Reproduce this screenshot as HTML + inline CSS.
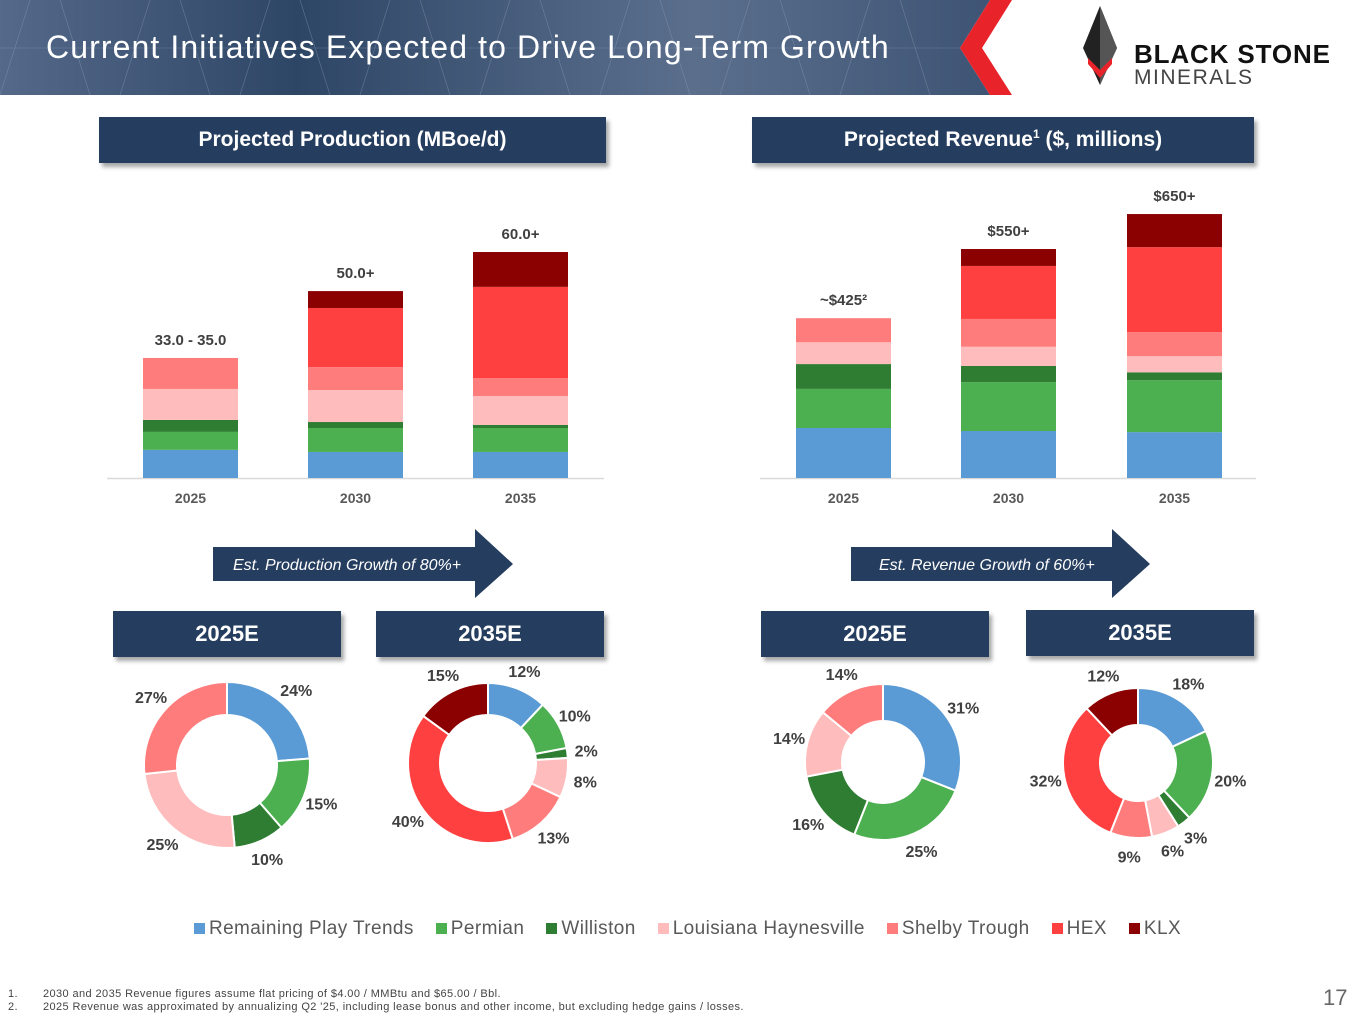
<!DOCTYPE html>
<html><head><meta charset="utf-8">
<style>
body{margin:0;width:1365px;height:1024px;position:relative;background:#fff;font-family:"Liberation Sans",sans-serif;overflow:hidden}
.hdr{position:absolute;background:#253d5e;color:#fff;font-weight:bold;text-align:center;box-shadow:3px 4px 4px rgba(0,0,0,0.35)}
sup{line-height:0}
</style></head><body>
<svg style="position:absolute;left:0;top:0" width="1365" height="100">
<defs><linearGradient id="g" x1="0" x2="1"><stop offset="0" stop-color="#55698a"/><stop offset="0.3" stop-color="#2e4666"/><stop offset="0.7" stop-color="#5b6f8d"/><stop offset="1" stop-color="#3e5474"/></linearGradient></defs>
<polygon points="0,0 990,0 960,48 990,95 0,95" fill="url(#g)"/>
<g stroke="#8ea0ba" stroke-width="0.6" opacity="0.5"><path d="M0,48H960 M30,0L0,95 M60,0l30,95 M150,0l-30,95 M180,0l30,95 M270,0l-30,95 M300,0l30,95 M390,0l-30,95 M420,0l30,95 M510,0l-30,95 M540,0l30,95 M630,0l-30,95 M660,0l30,95 M750,0l-30,95 M780,0l30,95 M870,0l-30,95 M900,0l30,95"/></g>
<polygon points="990,0 1012,0 982,48 1012,95 990,95 960,48" fill="#e8232a"/>
<polygon points="1100,6 1083,48 1100,85 1117,48" fill="#222"/>
<polygon points="1100,6 1100,85 1117,48" fill="#555"/>
<polygon points="1088,58 1100,70 1112,58 1112,64 1100,78 1088,64" fill="#e8232a"/>
<text x="1134" y="63" font-size="26" font-weight="bold" fill="#111" font-family="Liberation Sans" textLength="196">BLACK STONE</text>
<text x="1134" y="84" font-size="21" fill="#444" font-family="Liberation Sans" textLength="118">MINERALS</text>
</svg>
<div style="position:absolute;left:46px;top:29px;font-size:32px;color:#fff;letter-spacing:1.1px">Current Initiatives Expected to Drive Long-Term Growth</div>

<div class="hdr" style="left:99px;top:117px;width:507px;height:46px;line-height:46px;font-size:21px">Projected Production (MBoe/d)</div>
<div class="hdr" style="left:752px;top:117px;width:502px;height:46px;line-height:46px;font-size:21px">Projected Revenue<sup style="font-size:12px">1</sup> ($, millions)</div>

<svg style="position:absolute;left:0;top:0" width="1365" height="1024">
<polygon points="213,547 475,547 475,529 513,564 475,598 475,581 213,581" fill="#253d5e"/>
<polygon points="851,547 1112,547 1112,529 1150,564 1112,598 1112,581 851,581" fill="#253d5e"/>
<text x="233" y="570" font-size="16" font-style="italic" fill="#fff" font-family="Liberation Sans">Est. Production Growth of 80%+</text>
<text x="879" y="570" font-size="16" font-style="italic" fill="#fff" font-family="Liberation Sans">Est. Revenue Growth of 60%+</text>
</svg>

<div class="hdr" style="left:113px;top:611px;width:228px;height:46px;line-height:46px;font-size:22px">2025E</div>
<div class="hdr" style="left:376px;top:611px;width:228px;height:46px;line-height:46px;font-size:22px">2035E</div>
<div class="hdr" style="left:761px;top:611px;width:228px;height:46px;line-height:46px;font-size:22px">2025E</div>
<div class="hdr" style="left:1026px;top:610px;width:228px;height:46px;line-height:46px;font-size:22px">2035E</div>

<svg id="charts" style="position:absolute;left:0;top:0" width="1365" height="1024"></svg>

<div style="position:absolute;left:5px;top:918px;width:1365px;text-align:center;font-size:19px;color:#595959;letter-spacing:0.4px;white-space:nowrap" id="legend"></div>

<div style="position:absolute;left:8px;top:988px;font-size:11px;color:#444;line-height:13px;letter-spacing:0.4px">
<div><span style="display:inline-block;width:35px">1.</span>2030 and 2035 Revenue figures assume flat pricing of $4.00 / MMBtu and $65.00 / Bbl.</div>
<div><span style="display:inline-block;width:35px">2.</span>2025 Revenue was approximated by annualizing Q2 '25, including lease bonus and other income, but excluding hedge gains / losses.</div>
</div>
<div style="position:absolute;left:1323px;top:985px;font-size:22px;color:#666">17</div>

<script>
const series=["Remaining Play Trends","Permian","Williston","Louisiana Haynesville","Shelby Trough","HEX","KLX"];
const colors=["#5b9bd5","#4caf50","#2e7d32","#ffbcbc","#ff7c7c","#ff4040","#8b0000"];
const years=["2025","2030","2035"];
const prodBlue=[8.0,7.4,7.4];
const prodPermian=[5.1,6.8,6.8];
const prodWilliston=[3.4,1.7,0.9];
const prodLaHay=[8.8,9.1,8.2];
const prodShelby=[8.8,6.5,5.1];
const prodHex=[0,16.8,25.9];
const prodKlx=[0,4.8,9.9];
const prodLabels=["33.0 - 35.0","50.0+","60.0+"];
const revBlue=[133,125,122];
const revPermian=[104,130,138];
const revWilliston=[66,43,21];
const revLaHay=[58,51,43];
const revShelby=[64,74,64];
const revHex=[0,141,226];
const revKlx=[0,45,88];
const revLabels=["~$425²","$550+","$650+"];
const pieProd2025=[24,15,10,25,27,0,0];
const pieProd2035=[12,10,2,8,13,40,15];
const pieRev2025=[31,25,16,14,14,0,0];
const pieRev2035=[18,20,3,6,9,32,12];

const NS="http://www.w3.org/2000/svg";
const svg=document.getElementById('charts');
function mk(t,a,p){const e=document.createElementNS(NS,t);for(const k in a)e.setAttribute(k,a[k]);(p||svg).appendChild(e);return e;}

function bars(name,x0,x1,base,scale,barX,barW,stacks,labels){
  const g=mk('g',{});
  
  
  const ax=mk('line',{x1:x0,x2:x1,y1:base+0.5,y2:base+0.5,stroke:'#d9d9d9','stroke-width':1.5},g);
  
  
  years.forEach((yr,i)=>{
    let y=base;
    stacks.forEach((s,j)=>{
      const h=s[i]*scale; if(h<=0)return;
      y-=h;
      const r=mk('rect',{x:barX[i],y:y,width:barW,height:h,fill:colors[j]},g);
      
      
    });
    const t=mk('text',{x:barX[i]+barW/2,y:y-13,'text-anchor':'middle','font-size':15,'font-weight':'bold',fill:'#404040'},g);
    t.textContent=labels[i];
    
    
    const xl=mk('text',{x:barX[i]+barW/2,y:base+25,'text-anchor':'middle','font-size':14,'font-weight':'bold',fill:'#595959'},g);
    xl.textContent=yr;
    
    
  });
}
bars('production-chart',107,604,478,3.52,[143,308,473],95,[prodBlue,prodPermian,prodWilliston,prodLaHay,prodShelby,prodHex,prodKlx],prodLabels);
bars('revenue-chart',760,1256,478,0.376,[796,961,1127],95,[revBlue,revPermian,revWilliston,revLaHay,revShelby,revHex,revKlx],revLabels);

function donut(name,cx,cy,ro,ri,vals){
  const g=mk('g',{});
  
  
  const tot=vals.reduce((a,b)=>a+b,0);
  let a=0;
  vals.forEach((v,j)=>{
    if(v<=0)return;
    const a0=a/tot*2*Math.PI, a1=(a+v)/tot*2*Math.PI; a+=v;
    const P=(r,t)=>[cx+r*Math.sin(t),cy-r*Math.cos(t)];
    const L=(a1-a0)>Math.PI?1:0;
    const p0=P(ro,a0),p1=P(ro,a1),q1=P(ri,a1),q0=P(ri,a0);
    const d=`M${p0}A${ro},${ro} 0 ${L} 1 ${p1}L${q1}A${ri},${ri} 0 ${L} 0 ${q0}Z`;
    const s=mk('path',{d:d,fill:colors[j],stroke:'#fff','stroke-width':2},g);
    
    
    const m=(a0+a1)/2, lp=P(ro+19,m);
    const t=mk('text',{x:lp[0],y:lp[1]+6,'text-anchor':'middle','font-size':16,'font-weight':'bold',fill:'#404040'},g);
    t.textContent=v+'%';
    
    
  });
}
donut('donut-prod-2025',227,765,83,50,pieProd2025);
donut('donut-prod-2035',488,763,80,48,pieProd2035);
donut('donut-rev-2025',883,762,78,41,pieRev2025);
donut('donut-rev-2035',1138,763,75,38,pieRev2035);

const leg=document.getElementById('legend');
series.forEach((s,j)=>{
  const sp=document.createElement('span');
  
  
  sp.style.margin='0 11px';
  sp.innerHTML='<span style="display:inline-block;width:11px;height:11px;background:'+colors[j]+';margin-right:4px"></span>'+s;
  leg.appendChild(sp);
});
</script>
</body></html>
